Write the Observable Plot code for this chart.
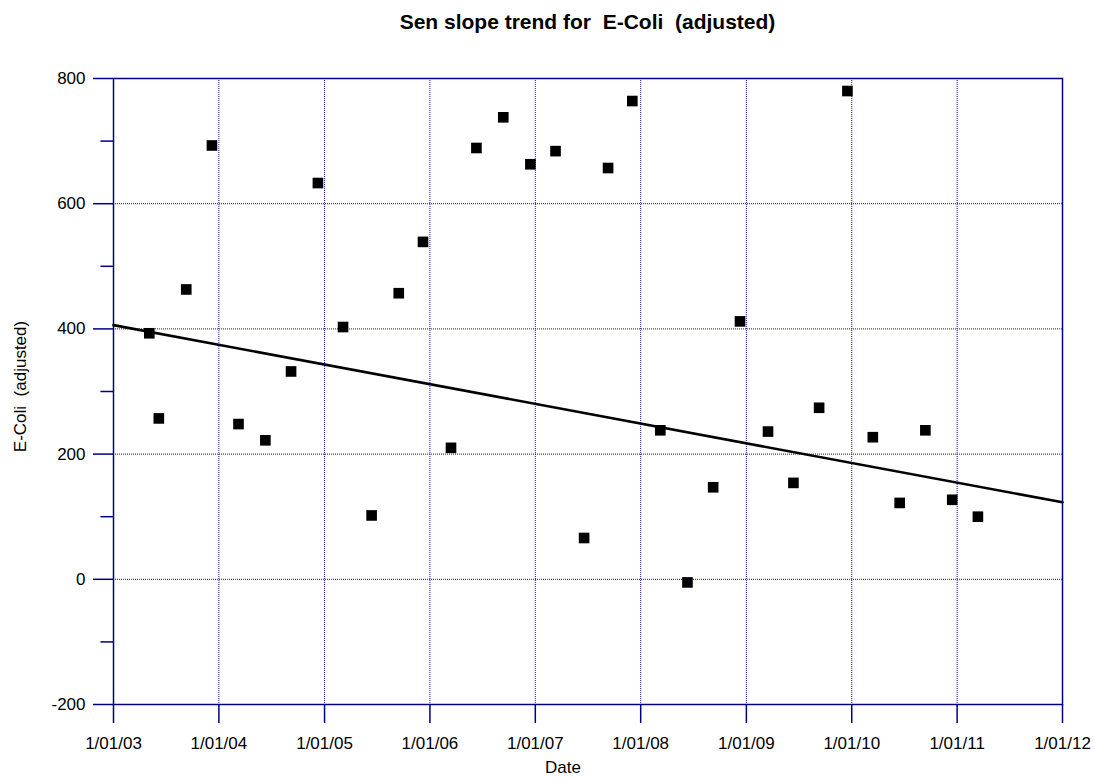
<!DOCTYPE html>
<html>
<head>
<meta charset="utf-8">
<script src="https://cdn.jsdelivr.net/npm/d3@7"></script>
<script src="https://cdn.jsdelivr.net/npm/@observablehq/plot@0.6"></script>
<style>
  html, body { margin: 0; padding: 0; background: #fff; }
  body { width: 1095px; height: 778px; overflow: hidden; font-family: "Liberation Sans", Arial, sans-serif; }
  #title { box-sizing: border-box; height: 40px; padding-top: 11px; padding-left: 113px; width: 1062px;
           text-align: center; font-weight: bold; font-size: 21px; line-height: 21px; color: #000; white-space: pre; }
  #chart svg { display: block; }
</style>
</head>
<body>
<div id="title">Sen slope trend for  E-Coli  (adjusted)</div>
<div id="chart"></div>
<script>
// ---- data ----
const sampleDates = [
  "2003-05-05","2003-06-07","2003-09-10","2003-12-08",
  "2004-03-09","2004-06-10","2004-09-07","2004-12-09",
  "2005-03-06","2005-06-13","2005-09-15","2005-12-08",
  "2006-03-15","2006-06-11","2006-09-12","2006-12-15",
  "2007-03-12","2007-06-19","2007-09-10","2007-12-03",
  "2008-03-09","2008-06-11","2008-09-08","2008-12-10",
  "2009-03-17","2009-06-13","2009-09-10","2009-12-17",
  "2010-03-15","2010-06-16","2010-09-13","2010-12-15",
  "2011-03-14"
];
const ecoliValues = [
  393, 257, 463, 693,
  248, 222, 332, 633,
  403, 102, 457, 539,
  210, 689, 738, 663,
  684, 66, 657, 764,
  238, -5, 147, 412,
  236, 154, 274, 780,
  227, 122, 238, 127,
  100
];
const trendDates = ["2003-01-01", "2012-01-01"];
const trendValues = [406, 123];
const xTickDates = ["2003-01-01","2004-01-01","2005-01-01","2006-01-01","2007-01-01",
                    "2008-01-01","2009-01-01","2010-01-01","2011-01-01","2012-01-01"];
const yMajorTicks = [-200, 0, 200, 400, 600, 800];
const yMinorTicks = [-100, 100, 300, 500, 700];
const titleText = "Sen slope trend for  E-Coli  (adjusted)";
const xLabel = "Date";
const yLabel = "E-Coli  (adjusted)";

// ---- build ----
const points = sampleDates.map((d, i) => ({date: new Date(d), value: ecoliValues[i]}));
const trend = trendDates.map((d, i) => ({date: new Date(d), value: trendValues[i]}));
const xTicks = xTickDates.map(d => new Date(d));
const fmt = d3.utcFormat("%-d/%m/%y");
const navy = "#000080";
const gridColor = "#1010a0";

const chart = Plot.plot({
  width: 1095,
  height: 738,
  marginTop: 38,
  marginBottom: 74,
  marginLeft: 113,
  marginRight: 33,
  style: {fontFamily: "'Liberation Sans', Arial, sans-serif", color: "#000", background: "#fff"},
  x: {type: "utc", domain: [xTicks[0], xTicks[xTicks.length - 1]]},
  y: {domain: [-200, 800]},
  marks: [
    Plot.gridX({ticks: xTicks, stroke: gridColor, strokeOpacity: 1, strokeWidth: 1, strokeDasharray: "1,1"}),
    Plot.gridY({ticks: yMajorTicks, stroke: gridColor, strokeOpacity: 1, strokeWidth: 1, strokeDasharray: "1,1"}),
    Plot.frame({stroke: navy, strokeWidth: 1.5}),
    Plot.axisX({ticks: xTicks, tickFormat: fmt, tickSize: 19, tickPadding: 13, fontSize: 17,
                stroke: navy, strokeWidth: 1.5, fill: "#000", label: null}),
    Plot.axisY({ticks: yMajorTicks, tickSize: 20, tickPadding: 8, fontSize: 17,
                tickFormat: d => String(d),
                stroke: navy, strokeWidth: 1.5, fill: "#000", label: null}),
    Plot.axisY({ticks: yMinorTicks, tickSize: 12.6, tickFormat: () => "",
                stroke: navy, strokeWidth: 1.5, label: null}),
    Plot.line(trend, {x: "date", y: "value", stroke: "#000", strokeWidth: 2.6}),
    Plot.dot(points, {x: "date", y: "value", symbol: "square", r: 6, fill: "#000", stroke: "none"}),
    Plot.text([xLabel], {frameAnchor: "bottom", dx: -25, dy: 63, lineAnchor: "middle",
                         fontSize: 17, fill: "#000"}),
    Plot.text([yLabel], {frameAnchor: "left", dx: -93, dy: -5, rotate: -90, lineAnchor: "middle",
                         textAnchor: "middle", fontSize: 17, fill: "#000"})
  ]
});
document.getElementById("title").textContent = titleText;
document.getElementById("chart").appendChild(chart);
</script>
</body>
</html>
